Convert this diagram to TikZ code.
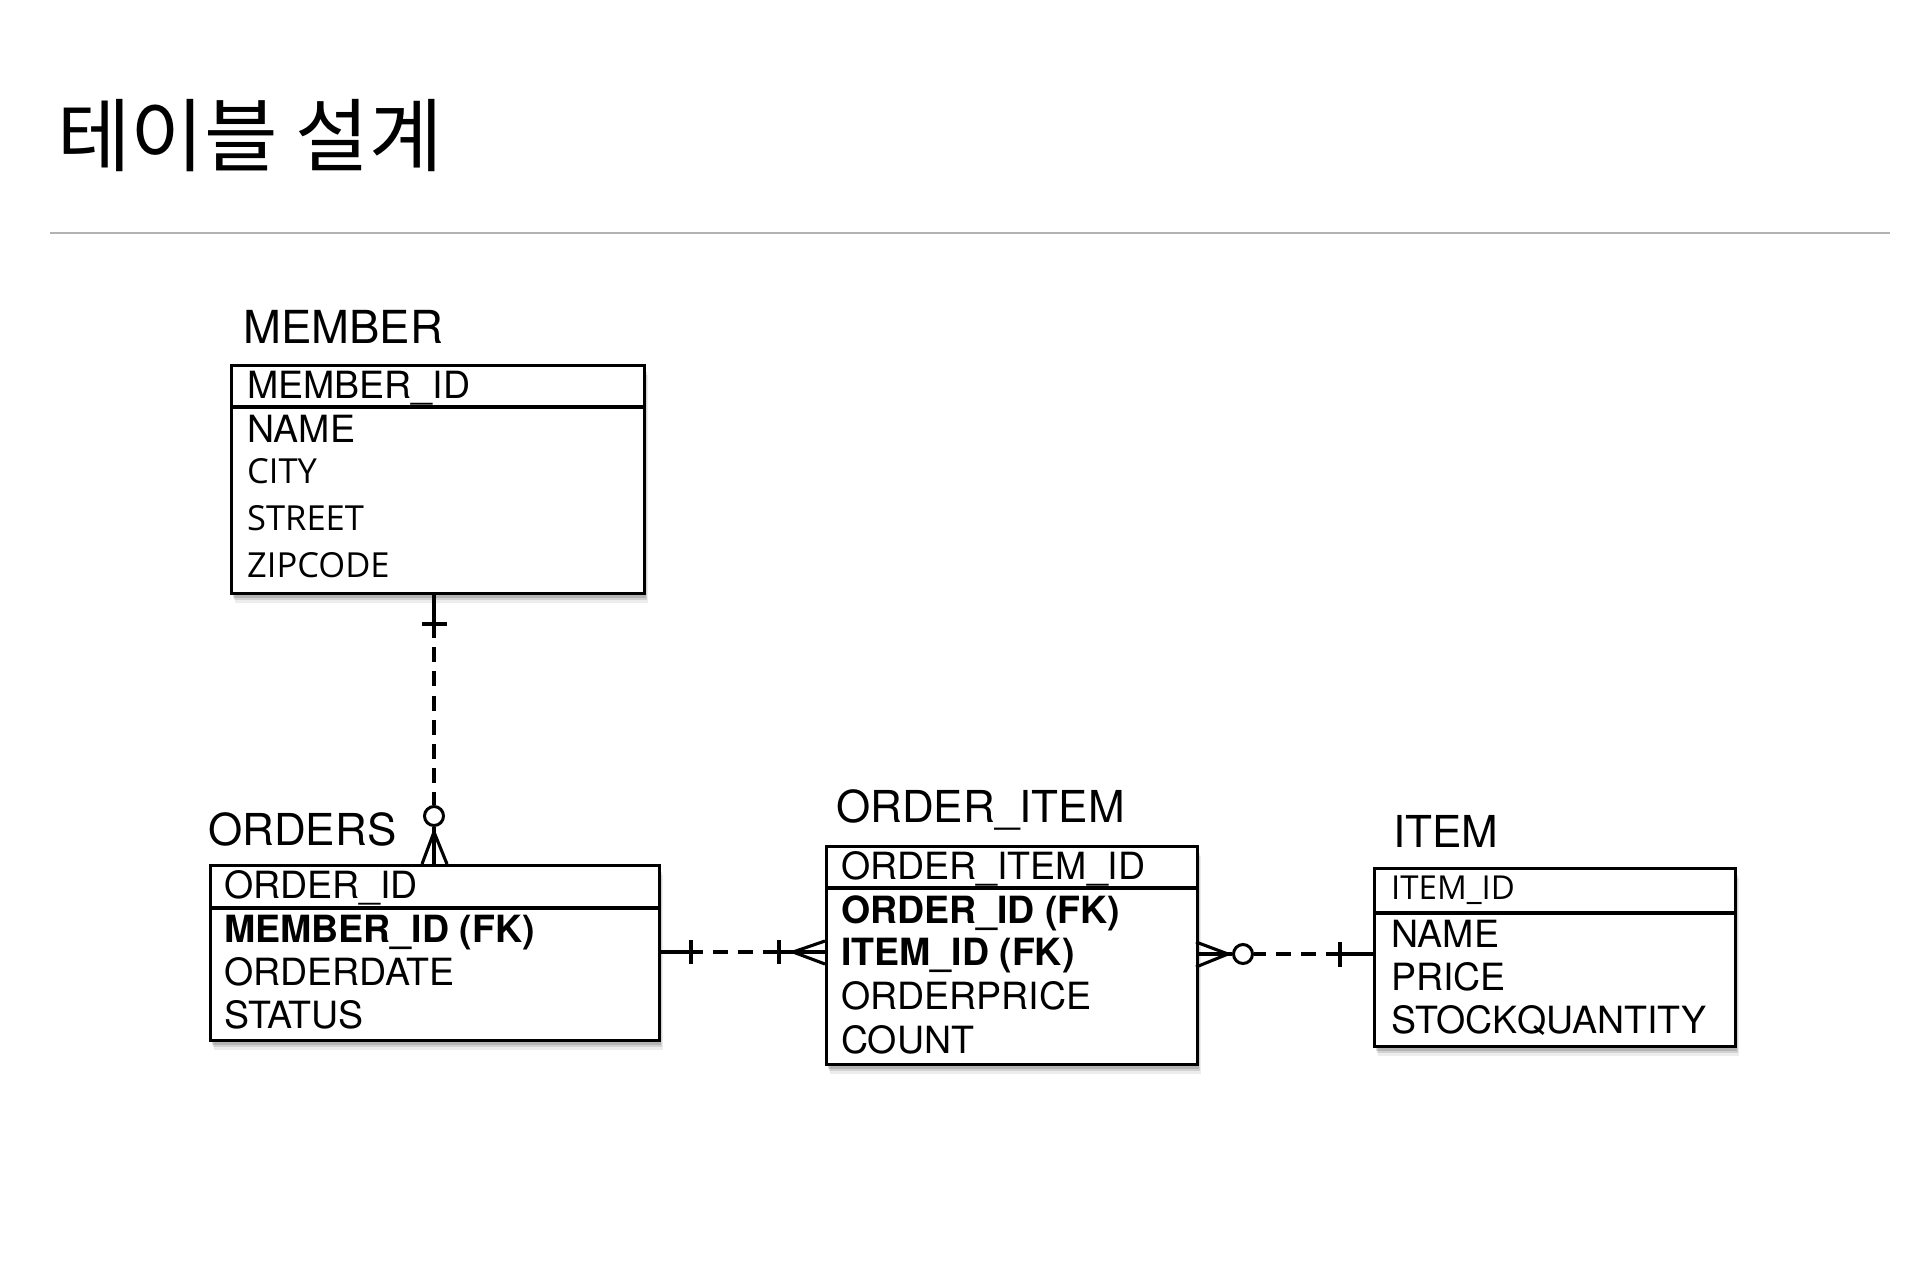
\documentclass[tikz,border=0pt]{standalone}
\usepackage{fontspec}
\usepackage{graphicx}
\setmainfont{TeX Gyre Heros}
\newfontfamily\krfont{Noto Sans CJK KR}
\newfontfamily\osfont{Open Sans}
\usetikzlibrary{shadows}
\tikzset{
  tbl/.style={draw, line width=3.4pt, fill=white, rectangle, inner sep=0pt, anchor=north west,
    drop shadow={shadow xshift=1pt, shadow yshift=-4pt, opacity=0.14, fill=black},
    drop shadow={shadow xshift=2pt, shadow yshift=-6pt, opacity=0.11, fill=black},
    drop shadow={shadow xshift=3pt, shadow yshift=-9pt, opacity=0.07, fill=black}},
  hdr/.style={font=\fontsize{44}{48}\selectfont, anchor=base west, inner sep=0pt},
  row/.style={font=\fontsize{37.5}{40}\selectfont, anchor=base west, inner sep=0pt},
  rowb/.style={font=\fontsize{37.5}{40}\selectfont\bfseries, anchor=base west, inner sep=0pt},
  rowo/.style={font=\osfont\fontsize{34.5}{36}\selectfont, anchor=base west, inner sep=0pt},
  rowos/.style={font=\osfont\fontsize{33}{36}\selectfont, anchor=base west, inner sep=0pt},
  sepline/.style={line width=3.4pt},
  conn/.style={line width=3.1pt},
  dsh/.style={line width=3.1pt, dash pattern=on 15pt off 10pt, dash phase=15pt},
  dshv/.style={line width=3.1pt, dash pattern=on 15pt off 9.2pt, dash phase=15pt},
  ring/.style={circle, draw, line width=3pt, minimum size=19pt, inner sep=0pt, fill=white}
}
\begin{document}
\begin{tikzpicture}[x=1pt,y=-1pt]
\fill[white] (0,0) rectangle (1928,1278);
\useasboundingbox (0,0) rectangle (1928,1278);

% title and rule
\node[anchor=base west, inner sep=0pt, font=\krfont\fontsize{80}{90}\selectfont] (title) at (57,165) {테이블 설계};
\draw[line width=2pt, black!30] (50,233) -- (1890,233);

% MEMBER
\node[hdr, font=\fontsize{45.5}{48}\selectfont] (memberT) at (243,343) {MEMBER};
\node[tbl, minimum width=413pt, minimum height=228pt] (member) at (230,364) {};
\draw[sepline] (member.west |- 0,407) -- (member.east |- 0,407);
\node[row]  (m1) at (247,398) {MEMBER\_ID};
\node[row]  (m2) at (247,442) {NAME};
\node[rowo] (m3) at (247,483) {CITY};
\node[rowo] (m4) at (247,530) {STREET};
\node[rowo] (m5) at (247,577) {ZIPCODE};

% ORDERS
\node[hdr] (ordersT) at (208,845) {ORDERS};
\node[tbl, minimum width=449pt, minimum height=175pt] (orders) at (209,864) {};
\draw[sepline] (orders.west |- 0,908) -- (orders.east |- 0,908);
\node[row]  (o1) at (224,898) {ORDER\_ID};
\node[rowb] (o2) at (224,942) {MEMBER\_ID (FK)};
\node[row]  (o3) at (224,985) {ORDERDATE};
\node[row]  (o4) at (224,1028) {STATUS};

% ORDER_ITEM
\node[hdr] (oiT) at (836,822) {ORDER\_ITEM};
\node[tbl, minimum width=371pt, minimum height=218pt] (orderitem) at (825,845) {};
\draw[sepline] (orderitem.west |- 0,888) -- (orderitem.east |- 0,888);
\node[row]  (i1) at (841,879) {ORDER\_ITEM\_ID};
\node[rowb] (i2) at (841,923) {ORDER\_ID (FK)};
\node[rowb] (i3) at (841,965) {ITEM\_ID (FK)};
\node[row]  (i4) at (841,1009) {ORDERPRICE};
\node[row]  (i5) at (841,1053) {COUNT};

% ITEM
\node[hdr] (itemT) at (1393,847) {ITEM};
\node[tbl, minimum width=361pt, minimum height=178pt] (item) at (1373,867) {};
\draw[sepline] (item.west |- 0,913) -- (item.east |- 0,913);
\node[rowos] (t1) at (1391,899) {ITEM\_ID};
\node[row]  (t2) at (1391,947) {NAME};
\node[row]  (t3) at (1391,990) {PRICE};
\node[row]  (t4) at (1391,1033) {STOCKQUANTITY};

% connector MEMBER -- ORDERS
\node[ring] (c1) at (434,816) {};
\coordinate (k1) at (434,638);
\coordinate (k2) at (434,800);
\coordinate (b1l) at (422,624);
\coordinate (b1r) at (447,624);
\coordinate (ap1) at (434,832);
\coordinate (f1l) at (422,864);
\coordinate (f1r) at (447,864);
\draw[conn] (c1 |- member.south) -- (k1);
\draw[dshv] (k1) -- (k2);
\draw[conn] (k2) -- (c1.north);
\draw[conn] (b1l) -- (b1r);
\draw[conn] (c1.south) -- (c1 |- orders.north);
\draw[conn] (f1l) -- (ap1) -- (f1r);

% connector ORDERS -- ORDER_ITEM
\coordinate (k3) at (703,952);
\coordinate (k4) at (763,952);
\coordinate (ap2) at (793,952);
\coordinate (f2t) at (825,941);
\coordinate (f2b) at (825,964);
\coordinate (b2t) at (691,940);
\coordinate (b2b) at (691,964);
\coordinate (b3t) at (779,940);
\coordinate (b3b) at (779,964);
\draw[conn] (orders.east |- k3) -- (k3);
\draw[dsh] (k3) -- (k4);
\draw[conn] (k4) -- (orderitem.west |- k4);
\draw[conn] (b2t) -- (b2b);
\draw[conn] (b3t) -- (b3b);
\draw[conn] (f2t) -- (ap2) -- (f2b);

% connector ORDER_ITEM -- ITEM
\node[ring] (c2) at (1243,954) {};
\coordinate (ap3) at (1228,954);
\coordinate (f3t) at (1196,942);
\coordinate (f3b) at (1196,967);
\coordinate (k5) at (1266,954);
\coordinate (k6) at (1327,954);
\coordinate (b4t) at (1340,942);
\coordinate (b4b) at (1340,967);
\draw[conn] (orderitem.east |- c2) -- (c2.west);
\draw[conn] (f3t) -- (ap3) -- (f3b);
\draw[conn] (c2.east) -- (k5);
\draw[dsh] (k5) -- (k6);
\draw[conn] (k6) -- (item.west |- k6);
\draw[conn] (b4t) -- (b4b);
\end{tikzpicture}
\end{document}
